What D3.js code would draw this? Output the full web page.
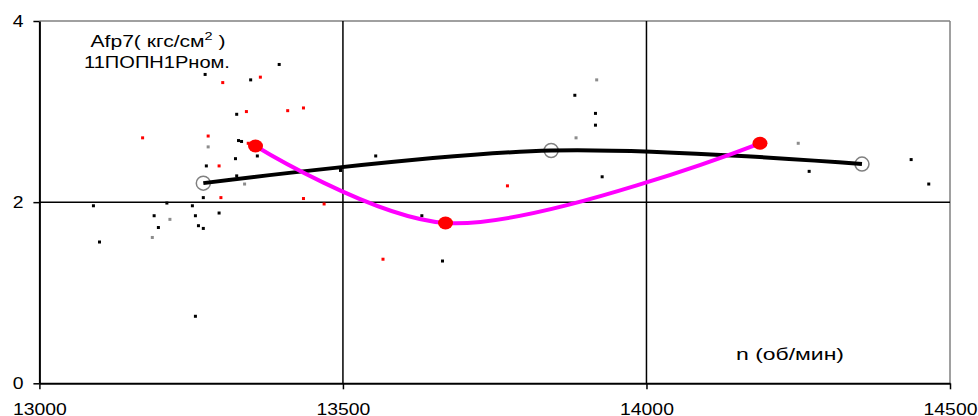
<!DOCTYPE html>
<html>
<head>
<meta charset="utf-8">
<script src="https://cdn.jsdelivr.net/npm/d3@7"></script>
<style>
  body { margin: 0; background: #fff; }
  svg { display: block; font-family: "Liberation Sans", Arial, sans-serif; }
</style>
</head>
<body>
<div id="chart"></div>
<script>
var width = 978, height = 416;
var margin = {top: 21, right: 28, bottom: 32.7, left: 39.4};

// scatter of measurements (n, Afp7)
var blackN = [13395, 13273, 13348, 13325, 13328, 13333, 13359, 13323, 13275, 13325, 13270,
  13296, 13089, 13210, 13252, 13189, 13257, 13196, 13262, 13270, 13099, 13257, 13554,
  13496, 13882, 13916, 13916, 13927, 13630, 13664, 14268, 14436, 14465];
var blackV = [3.52, 3.41, 3.35, 2.97, 2.68, 2.67, 2.51, 2.48, 2.40, 2.29, 2.05,
  1.88, 1.96, 1.99, 1.96, 1.85, 1.85, 1.72, 1.74, 1.71, 1.56, 0.74, 2.51,
  2.35, 3.18, 2.98, 2.85, 2.28, 1.85, 1.35, 2.34, 2.47, 2.20];
var redN = [13302, 13364, 13341, 13409, 13435, 13170, 13278, 13344, 13296, 13299,
  13435, 13469, 13771, 13566];
var redV = [3.32, 3.38, 3.00, 3.01, 3.04, 2.71, 2.73, 2.65, 2.40, 2.05,
  2.04, 1.98, 2.18, 1.37];
var greyN = [13278, 13338, 13215, 13186, 13918, 13884, 14250];
var greyV = [2.61, 2.20, 1.81, 1.61, 3.35, 2.71, 2.65];

// averaged curves
var meanN = [13270, 13843, 14355];
var meanV = [2.21, 2.57, 2.42];
var fitN = [13356, 13669, 14187];
var fitV = [2.62, 1.77, 2.65];

var xTicks = [13000, 13500, 14000, 14500];
var yTicks = [0, 2, 4];

var svg = d3.select('#chart').append('svg')
  .attr('width', width)
  .attr('height', height);

var x = d3.scaleLinear().domain([13000, 14500]).range([margin.left, width - margin.right]);
var y = d3.scaleLinear().domain([0, 4]).range([height - margin.bottom, margin.top]);

// frame: grey top and right
svg.append('line')
  .attr('x1', x(13000)).attr('x2', x(14500)).attr('y1', y(4)).attr('y2', y(4))
  .attr('stroke', '#808080').attr('stroke-width', 1.5);
svg.append('line')
  .attr('x1', x(14500)).attr('x2', x(14500)).attr('y1', y(4)).attr('y2', y(0))
  .attr('stroke', '#808080').attr('stroke-width', 1.5);

// grid
svg.selectAll('.vgrid').data([13500, 14000]).enter().append('line')
  .attr('x1', function(d){ return x(d); }).attr('x2', function(d){ return x(d); })
  .attr('y1', y(4)).attr('y2', y(0))
  .attr('stroke', '#000').attr('stroke-width', 1.5);
svg.append('line')
  .attr('x1', x(13000)).attr('x2', x(14500)).attr('y1', y(2)).attr('y2', y(2))
  .attr('stroke', '#000').attr('stroke-width', 1.5);

// axes
var stretch = 'scale(1.14,1)';
var yAxis = svg.append('g')
  .attr('transform', 'translate(' + x(13000) + ',0)')
  .call(d3.axisLeft(y).tickValues(yTicks).tickSize(6).tickSizeOuter(0).tickPadding(8)
    .tickFormat(d3.format('d')));
var xAxis = svg.append('g')
  .attr('transform', 'translate(0,' + y(0) + ')')
  .call(d3.axisBottom(x).tickValues(xTicks).tickSize(6).tickSizeOuter(0).tickPadding(13.5)
    .tickFormat(d3.format('d')));
[yAxis, xAxis].forEach(function(a){
  a.select('.domain').attr('stroke', '#000').attr('stroke-width', 2);
  a.selectAll('.tick line').attr('stroke', '#000').attr('stroke-width', 1.5);
  a.selectAll('.tick text')
    .attr('fill', '#000')
    .style('font-size', '17px')
    .style('font-family', '"Liberation Sans", Arial, sans-serif')
    .attr('transform', stretch);
});

// scatter dots
function dots(ns, vs, colour){
  svg.append('g').selectAll('rect').data(ns).enter().append('rect')
    .attr('x', function(d){ return x(d) - 1.5; })
    .attr('y', function(d, i){ return y(vs[i]) - 1.5; })
    .attr('width', 3).attr('height', 3)
    .attr('fill', colour);
}
dots(blackN, blackV, '#000');
dots(redN, redV, '#ff0000');
dots(greyN, greyV, '#8c8c8c');

var line = d3.line()
  .x(function(d){ return x(d[0]); })
  .y(function(d){ return y(d[1]); })
  .curve(d3.curveCatmullRom.alpha(0.5));

var meanPts = meanN.map(function(n, i){ return [n, meanV[i]]; });
var fitPts = fitN.map(function(n, i){ return [n, fitV[i]]; });

svg.selectAll('.mean').data(meanPts).enter().append('circle')
  .attr('cx', function(d){ return x(d[0]); })
  .attr('cy', function(d){ return y(d[1]); })
  .attr('r', 7)
  .attr('fill', 'none')
  .attr('stroke', '#808080').attr('stroke-width', 1.5);

svg.append('path').datum(meanPts)
  .attr('d', line)
  .attr('fill', 'none').attr('stroke', '#000').attr('stroke-width', 4);

svg.append('path').datum(fitPts)
  .attr('d', line)
  .attr('fill', 'none').attr('stroke', '#ff00ff').attr('stroke-width', 4);

svg.selectAll('.fit').data(fitPts).enter().append('ellipse')
  .attr('cx', function(d){ return x(d[0]); })
  .attr('cy', function(d){ return y(d[1]); })
  .attr('rx', 7.5).attr('ry', 6.5)
  .attr('fill', '#ff0000');

// labels, stretched to the measured widths
function label(cx, baseline, targetW, build){
  var g = svg.append('g');
  var t = g.append('text')
    .attr('text-anchor', 'middle')
    .style('font-size', '16px')
    .attr('fill', '#000');
  build(t);
  var w = t.node().getComputedTextLength();
  g.attr('transform', 'translate(' + cx + ',' + baseline + ') scale(' + (targetW / w) + ',1)');
}
label(158, 47, 135, function(t){
  t.append('tspan').text('Afp7( кгс/см');
  t.append('tspan').attr('dy', -7).style('font-size', '11px').text('2');
  t.append('tspan').attr('dy', 7).text(' )');
});
label(157, 68, 146, function(t){ t.text('11ПОПН1Рном.'); });
label(790, 360, 108, function(t){ t.text('n (об/мин)'); });
</script>
</body>
</html>
